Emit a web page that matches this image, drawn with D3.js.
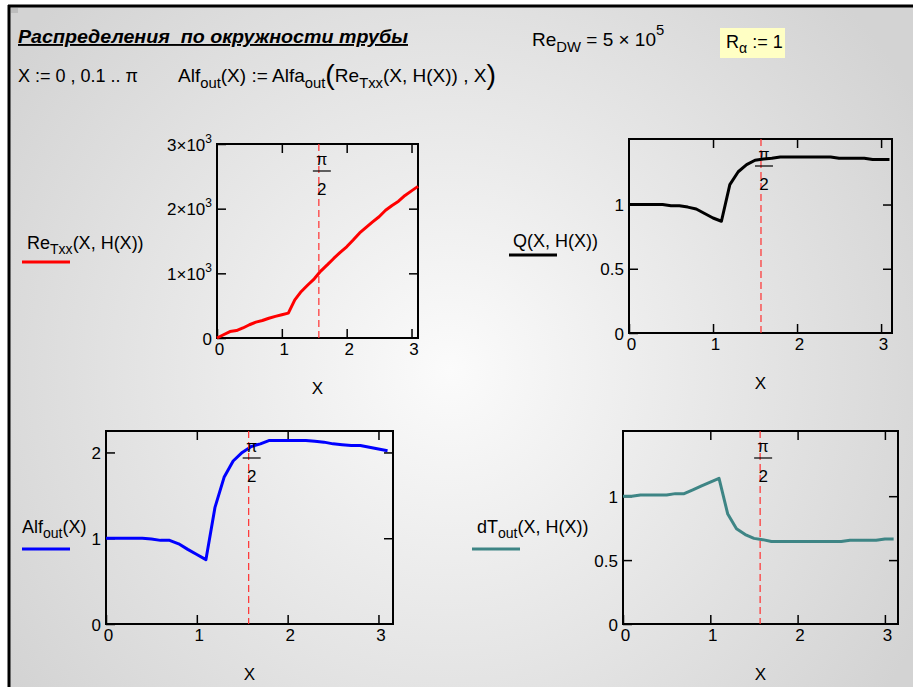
<!DOCTYPE html>
<html>
<head>
<meta charset="utf-8">
<script src="https://cdn.jsdelivr.net/npm/d3@7"></script>
<style>
body { margin: 0; background: #fff; }
svg text { font-family: "Liberation Sans", Arial, sans-serif; fill: #000; white-space: pre; }
</style>
</head>
<body>
<script>
// X := 0, 0.1 .. pi  (grid points of the plots)
var xVals = [0, 0.1, 0.2, 0.3, 0.4, 0.5, 0.6, 0.7, 0.8, 0.9, 1.0, 1.1, 1.2, 1.3, 1.4, 1.5,
             1.6, 1.7, 1.8, 1.9, 2.0, 2.1, 2.2, 2.3, 2.4, 2.5, 2.6, 2.7, 2.8, 2.9, 3.0, 3.1];

// series
var reTxx = [0, 50, 100, 115, 155, 205, 245, 270, 305, 335, 360, 385, 590, 720, 820, 915,
             1035, 1130, 1230, 1325, 1410, 1515, 1625, 1710, 1795, 1875, 1975, 2050, 2115, 2205, 2275, 2345];
var qVals = [1.0, 1.0, 1.0, 1.0, 1.0, 0.99, 0.99, 0.98, 0.965, 0.93, 0.895, 0.87, 1.155, 1.255, 1.31, 1.345,
             1.355, 1.36, 1.37, 1.37, 1.37, 1.37, 1.37, 1.37, 1.37, 1.36, 1.36, 1.36, 1.36, 1.35, 1.35, 1.35];
var alfOut = [1.0, 1.0, 1.0, 1.0, 1.0, 0.99, 0.975, 0.975, 0.935, 0.87, 0.81, 0.75, 1.36, 1.71, 1.9, 2.0,
              2.07, 2.1, 2.14, 2.14, 2.14, 2.14, 2.14, 2.13, 2.12, 2.1, 2.09, 2.08, 2.08, 2.06, 2.04, 2.02];
var dTout = [1.0, 1.0, 1.01, 1.01, 1.01, 1.01, 1.02, 1.02, 1.05, 1.08, 1.11, 1.14, 0.86, 0.745, 0.7, 0.67,
             0.66, 0.645, 0.645, 0.645, 0.645, 0.645, 0.645, 0.645, 0.645, 0.645, 0.655, 0.655, 0.655, 0.655, 0.665, 0.665];

// tick labels
var xTicks = [0, 1, 2, 3];
var reTicks = [0, 1000, 2000, 3000];
var qTicks = [0, 0.5, 1];
var alfTicks = [0, 1, 2];
var dTTicks = [0, 0.5, 1];

var width = 913, height = 687;

var svg = d3.select("body").append("svg")
    .attr("width", width)
    .attr("height", height);

// worksheet background
var grad = svg.append("defs").append("radialGradient")
    .attr("id", "bg")
    .attr("gradientUnits", "userSpaceOnUse")
    .attr("cx", 450).attr("cy", 370).attr("r", 540);
grad.append("stop").attr("offset", "0").attr("stop-color", "#fbfbfb");
grad.append("stop").attr("offset", "1").attr("stop-color", "#d3d3d3");

svg.append("rect")
    .attr("x", 8).attr("y", 5)
    .attr("width", width - 8).attr("height", height - 5)
    .attr("fill", "url(#bg)");
svg.append("line").attr("x1", 8).attr("x2", width).attr("y1", 6).attr("y2", 6)
    .attr("stroke", "#000").attr("stroke-width", 3);
svg.append("line").attr("x1", 9).attr("x2", 9).attr("y1", 5).attr("y2", height)
    .attr("stroke", "#000").attr("stroke-width", 3);
svg.append("rect").attr("x", 11).attr("y", 8).attr("width", 7).attr("height", 5).attr("fill", "#bdbdbd");

// text with sub/superscripts: parts = [[text, kind]]
function richText(sel, x, y, parts, fs) {
  var t = sel.append("text").attr("x", x).attr("y", y).style("font-size", fs + "px");
  var cur = 0;
  parts.forEach(function(p) {
    var kind = p[1] || "n";
    var off = kind === "sub" ? fs * 0.3 : kind === "sup" ? -fs * 0.6 : kind === "big" ? fs * 0.08 : 0;
    var sz = (kind === "sub" || kind === "sup") ? fs * 0.78 : kind === "big" ? fs * 1.5 : fs;
    t.append("tspan")
        .attr("dy", off - cur)
        .style("font-size", sz + "px")
        .text(p[0]);
    cur = off;
  });
  return t;
}

// header
svg.append("text")
    .attr("x", 18).attr("y", 43)
    .attr("textLength", 390)
    .attr("lengthAdjust", "spacingAndGlyphs")
    .style("font-size", "19px")
    .style("font-weight", "bold")
    .style("font-style", "italic")
    .style("text-decoration", "underline")
    .text("Распределения  по окружности трубы");

richText(svg, 532, 46, [["Re"], ["DW", "sub"], [" = 5 × 10"], ["5", "sup"]], 19);

svg.append("rect").attr("x", 720).attr("y", 28).attr("width", 65).attr("height", 30).attr("fill", "#ffffc4");
richText(svg, 726, 48, [["R"], ["α", "sub"], [" := 1"]], 18);

richText(svg, 18, 82, [["X := 0 , 0.1 .. π"]], 18);
richText(svg, 178, 82, [["Alf"], ["out", "sub"], ["(X) := Alfa"], ["out", "sub"], ["(", "big"],
    ["Re"], ["Txx", "sub"], ["(X, H(X)) , X"], [")", "big"]], 19);

// plot panels
var panels = [
  {vals: reTxx, color: "#ff0000", box: [217, 144, 418, 338], xMax: 3.1, yMax: 3000, yTicks: reTicks, sci: true,
   legend: {x: 27, y: 249, line: [22, 70, 262], parts: [["Re"], ["Txx", "sub"], ["(X, H(X))"]]}},
  {vals: qVals, color: "#000000", box: [629, 139, 892, 333], xMax: 3.13, yMax: 1.51, yTicks: qTicks,
   legend: {x: 513, y: 247, line: [509, 557, 255], parts: [["Q(X, H(X))"]]}},
  {vals: alfOut, color: "#0000ff", box: [106, 431, 393, 624], xMax: 3.16, yMax: 2.25, yTicks: alfTicks,
   legend: {x: 22, y: 533, line: [22, 70, 549], parts: [["Alf"], ["out", "sub"], ["(X)"]]}},
  {vals: dTout, color: "#3e8585", box: [623, 431, 898, 624], xMax: 3.15, yMax: 1.51, yTicks: dTTicks,
   legend: {x: 477, y: 533, line: [472, 520, 549], parts: [["dT"], ["out", "sub"], ["(X, H(X))"]]}}
];

panels.forEach(function(p) {
  var x0 = p.box[0], y0 = p.box[1], x1 = p.box[2], y1 = p.box[3];
  var x = d3.scaleLinear().domain([0, p.xMax]).range([x0, x1]);
  var y = d3.scaleLinear().domain([0, p.yMax]).range([y1, y0]);
  var g = svg.append("g");

  var inner = p.yTicks.filter(function(d) { return d > 0 && d < p.yMax; });

  var bottom = g.append("g").attr("transform", "translate(0," + y1 + ")")
      .call(d3.axisBottom(x).tickValues(xTicks).tickSize(-9).tickPadding(5).tickFormat(String));
  g.append("g").attr("transform", "translate(0," + y0 + ")")
      .call(d3.axisTop(x).tickValues(xTicks.slice(1)).tickSize(-9).tickFormat(""));
  var left = g.append("g").attr("transform", "translate(" + x0 + ",0)")
      .call(d3.axisLeft(y).tickValues(p.yTicks).tickSize(-9).tickPadding(5).tickFormat(String));
  g.append("g").attr("transform", "translate(" + x1 + ",0)")
      .call(d3.axisRight(y).tickValues(inner).tickSize(-9).tickFormat(""));

  g.selectAll(".domain").remove();
  g.selectAll(".tick line").attr("stroke", "#000").attr("stroke-width", 1.5);
  g.selectAll(".tick text").style("font-size", "17px").attr("fill", "#000").style("font-family", null);
  left.selectAll(".tick text").attr("dy", "0.36em");
  bottom.selectAll(".tick text").attr("dx", 2);

  if (p.sci) {
    left.selectAll(".tick text").each(function(d) {
      if (d === 0) return;
      var t = d3.select(this).text("");
      t.append("tspan").text((d / 1000) + "×10");
      t.append("tspan").attr("dy", -8).style("font-size", "12px").text("3");
    });
  }

  g.append("rect")
      .attr("x", x0).attr("y", y0)
      .attr("width", x1 - x0).attr("height", y1 - y0)
      .attr("fill", "none").attr("stroke", "#000").attr("stroke-width", 2);

  var line = d3.line()
      .x(function(d, i) { return x(xVals[i]); })
      .y(function(d) { return y(d); });
  g.append("path")
      .datum(p.vals)
      .attr("d", line)
      .attr("fill", "none")
      .attr("stroke", p.color)
      .attr("stroke-width", 3)
      .attr("stroke-linejoin", "round");

  // pi/2 marker
  var xm = x(Math.PI / 2);
  g.append("line")
      .attr("x1", xm).attr("x2", xm).attr("y1", y0).attr("y2", y1)
      .attr("stroke", "#ff3030").attr("stroke-width", 1.2)
      .attr("stroke-dasharray", "7,4");
  g.append("text").attr("x", xm + 3).attr("y", y0 + 21)
      .attr("text-anchor", "middle").style("font-size", "16px").text("π");
  g.append("line").attr("x1", xm - 6).attr("x2", xm + 12).attr("y1", y0 + 27).attr("y2", y0 + 27)
      .attr("stroke", "#000").attr("stroke-width", 1.2);
  g.append("text").attr("x", xm + 3).attr("y", y0 + 51)
      .attr("text-anchor", "middle").style("font-size", "17px").text("2");

  // axis title
  g.append("text").attr("x", (x0 + x1) / 2).attr("y", y1 + 56)
      .attr("text-anchor", "middle").style("font-size", "17px").text("X");

  // trace legend
  richText(svg, p.legend.x, p.legend.y, p.legend.parts, 18);
  svg.append("line")
      .attr("x1", p.legend.line[0]).attr("x2", p.legend.line[1])
      .attr("y1", p.legend.line[2]).attr("y2", p.legend.line[2])
      .attr("stroke", p.color).attr("stroke-width", 3);
});
</script>
</body>
</html>
